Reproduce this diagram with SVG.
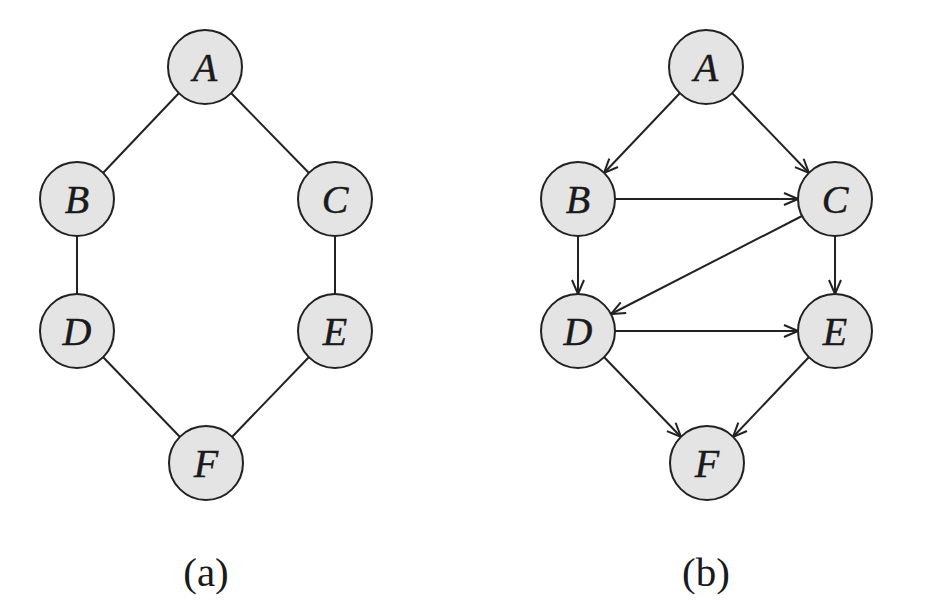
<svg xmlns="http://www.w3.org/2000/svg" width="948" height="616" viewBox="0 0 948 616">
  <style>
    .node circle { fill: #e4e4e4; stroke: #222; stroke-width: 2; }
    .node text { font-family: "Liberation Serif", "DejaVu Serif", serif; font-style: italic; font-size: 40px; fill: #1a1a1a; stroke: #1a1a1a; stroke-width: 0.4; text-anchor: middle; }
    .edges line { stroke: #222; stroke-width: 2; fill: none; }
    .caption { font-family: "Liberation Serif", "DejaVu Serif", serif; font-size: 41px; fill: #1a1a1a; text-anchor: middle; }
  </style>
  <defs>
    <marker id="arrow" viewBox="0 0 16 14" refX="15" refY="7" markerWidth="16" markerHeight="14" markerUnits="userSpaceOnUse" orient="auto">
      <path d="M1,1 L15,7 L1,13" fill="none" stroke="#222" stroke-width="2"/>
    </marker>
  </defs>
  <rect width="948" height="616" fill="#fff"/>

  <!-- (a) undirected graph -->
  <g class="edges" id="edges-a">
    <line x1="179" y1="93" x2="103" y2="173"/>
    <line x1="231" y1="93" x2="309" y2="173"/>
    <line x1="77" y1="236" x2="77" y2="294"/>
    <line x1="335" y1="236" x2="335" y2="294"/>
    <line x1="103" y1="357" x2="180" y2="437"/>
    <line x1="309" y1="357" x2="232" y2="437"/>
  </g>
  <g class="node" id="a-A"><circle cx="205" cy="67" r="37"/><text x="205" y="81">A</text></g>
  <g class="node" id="a-B"><circle cx="77" cy="199" r="37"/><text x="77" y="213">B</text></g>
  <g class="node" id="a-C"><circle cx="335" cy="199" r="37"/><text x="335" y="213">C</text></g>
  <g class="node" id="a-D"><circle cx="77" cy="331" r="37"/><text x="77" y="345">D</text></g>
  <g class="node" id="a-E"><circle cx="335" cy="331" r="37"/><text x="335" y="345">E</text></g>
  <g class="node" id="a-F"><circle cx="206" cy="463" r="37"/><text x="206" y="477">F</text></g>
  <text class="caption" x="206" y="586">(a)</text>

  <!-- (b) directed graph -->
  <g class="edges" id="edges-b">
    <line x1="680" y1="93" x2="604" y2="173" marker-end="url(#arrow)"/>
    <line x1="732" y1="93" x2="809" y2="173" marker-end="url(#arrow)"/>
    <line x1="615" y1="199" x2="798" y2="199" marker-end="url(#arrow)"/>
    <line x1="802" y1="216" x2="611" y2="314" marker-end="url(#arrow)"/>
    <line x1="578" y1="236" x2="578" y2="294" marker-end="url(#arrow)"/>
    <line x1="835" y1="236" x2="835" y2="294" marker-end="url(#arrow)"/>
    <line x1="615" y1="331" x2="798" y2="331" marker-end="url(#arrow)"/>
    <line x1="604" y1="357" x2="681" y2="437" marker-end="url(#arrow)"/>
    <line x1="809" y1="357" x2="733" y2="437" marker-end="url(#arrow)"/>
  </g>
  <g class="node" id="b-A"><circle cx="706" cy="67" r="37"/><text x="706" y="81">A</text></g>
  <g class="node" id="b-B"><circle cx="578" cy="199" r="37"/><text x="578" y="213">B</text></g>
  <g class="node" id="b-C"><circle cx="835" cy="199" r="37"/><text x="835" y="213">C</text></g>
  <g class="node" id="b-D"><circle cx="578" cy="331" r="37"/><text x="578" y="345">D</text></g>
  <g class="node" id="b-E"><circle cx="835" cy="331" r="37"/><text x="835" y="345">E</text></g>
  <g class="node" id="b-F"><circle cx="707" cy="463" r="37"/><text x="707" y="477">F</text></g>
  <text class="caption" x="706" y="586">(b)</text>
</svg>
